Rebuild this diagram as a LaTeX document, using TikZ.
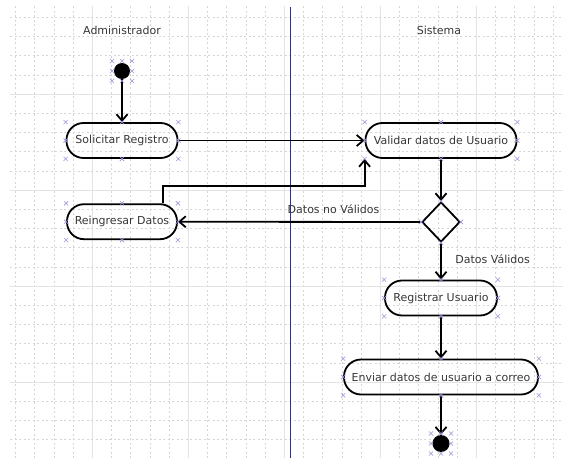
\documentclass[tikz,border=0pt]{standalone}
\usepackage{fontspec}
\setmainfont{DejaVu Sans}
\usepackage{tikz}
\usetikzlibrary{arrows.meta,shapes.geometric,shapes.misc}

\definecolor{lane}{RGB}{50,50,110}
\definecolor{handlecol}{RGB}{150,150,215}
\definecolor{txt}{RGB}{55,55,55}

% selection marks round a node
\newcommand{\handles}[1]{%
  \foreach \a in {north west,north,north east,east,south east,south,south west,west}
    \node[handle] at (#1.\a) {};}
\newcommand{\dothandles}[1]{%
  \foreach \dx/\dy in {-10/-10,0/-10,10/-10,-10/0,10/0,-10/10,0/10,10/10}
    \node[handle] at ([xshift=\dx pt,yshift=\dy pt]#1.center) {};}

\begin{document}
\begin{tikzpicture}[x=1pt,y=-1pt,
  font=\fontsize{11}{13}\selectfont, text=txt,
  act/.style={draw, line width=1.8pt, rounded corners=17pt, minimum height=35pt, inner sep=0pt},
  choice/.style={diamond, draw, line width=1.8pt, minimum width=38pt, minimum height=40pt, inner sep=0pt},
  initnode/.style={circle, fill=black, minimum size=16pt, inner sep=0pt},
  endnode/.style={circle, fill=black, minimum size=17pt, inner sep=0pt},
  flow/.style={line width=1.8pt, -{Straight Barb[length=6.5pt,width=11pt]}},
  handle/.style={cross out, draw=handlecol, minimum size=3.5pt, inner sep=0pt, line width=0.6pt},
  minor/.style={draw=black!16, dash pattern=on 2pt off 2.5pt, line width=0.5pt},
  major/.style={draw=black!11, line width=0.9pt}]

  \useasboundingbox (0,0) rectangle (563,458);

  % grid
  \foreach \i in {0,...,28} {
    \pgfmathtruncatemacro\m{mod(\i+1,5)}
    \ifnum\m=0 \draw[major] ({15.5+19.2*\i},6) -- ({15.5+19.2*\i},458);
    \else \draw[minor] ({15.5+19.2*\i},6) -- ({15.5+19.2*\i},458); \fi
  }
  \foreach \i in {0,...,22} {
    \pgfmathtruncatemacro\m{mod(\i+1,5)}
    \ifnum\m=0 \draw[major] (10,{17.2+19.2*\i}) -- (563,{17.2+19.2*\i});
    \else \draw[minor] (10,{17.2+19.2*\i}) -- (563,{17.2+19.2*\i}); \fi
  }

  % swimlanes
  \draw[lane, line width=1pt] (290,7) -- (290,458);
  \draw (122,30) node (admin) {Administrador};
  \draw (439,30) node (sist) {Sistema};

  \draw (122,71) node[initnode] (ini) {};
  \draw (122,140.5) node[act, minimum width=111pt] (solic) {Solicitar Registro};
  \draw (122,221.7) node[act, minimum width=110pt] (rein) {Reingresar Datos};
  \draw (441,140.5) node[act, minimum width=151pt] (valid) {Validar datos de Usuario};
  \draw (441,222) node[choice] (dec) {};
  \draw (441,298) node[act, minimum width=112pt] (reg) {Registrar Usuario};
  \draw (441,377) node[act, minimum width=194pt] (env) {Enviar datos de usuario a correo};
  \draw (441,443.5) node[endnode] (fin) {};

  \path[flow] (ini) edge (solic);
  \path[flow] (solic) edge (valid);
  \path[flow] (valid) edge (dec);
  \path[flow] (dec) edge node[pos=0.36, label=above:{Datos no Válidos}] {} (rein);
  \path[flow] (dec) edge node[pos=0.45, label={[label distance=6pt]right:Datos Válidos}] {} (reg);
  \path[flow] (reg) edge (env);
  \path[flow] (env) edge (fin);
  \draw[flow] ([xshift=41pt]rein.north) |- ([yshift=-27pt]valid.south west) -- (valid.south west);

  \dothandles{ini}
  \handles{solic}
  \handles{rein}
  \handles{valid}
  \foreach \a in {north,east,south,west} \node[handle] at (dec.\a) {};
  \handles{reg}
  \handles{env}
  \dothandles{fin}

\end{tikzpicture}
\end{document}
